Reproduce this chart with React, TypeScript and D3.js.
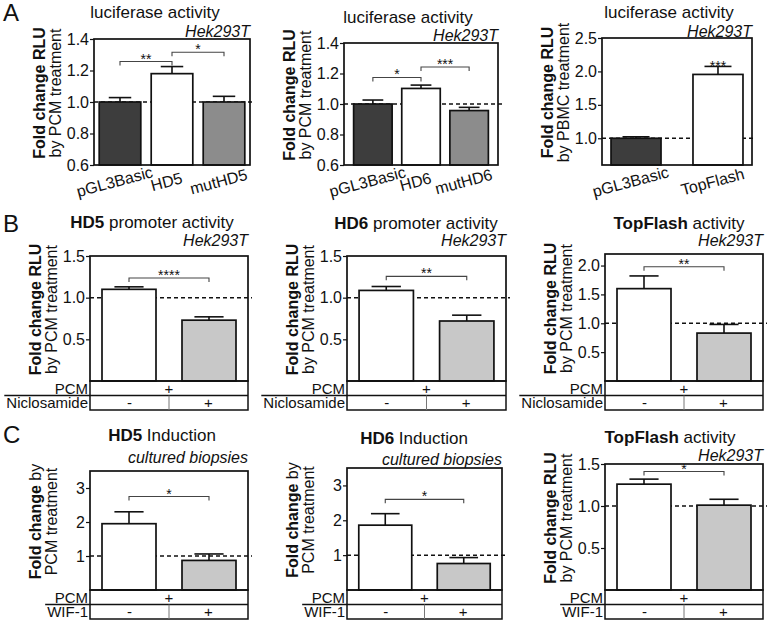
import React, { useEffect, useRef } from 'react';
import * as d3 from 'd3';

const FONT = '"Liberation Sans", Arial, Helvetica, sans-serif';

// ---- data: panel A (luciferase) ----
const catsA1 = ['pGL3Basic', 'HD5', 'mutHD5'];
const valsA1 = [1.0, 1.18, 1.0];
const errsA1 = [0.028, 0.045, 0.036];

const catsA2 = ['pGL3Basic', 'HD6', 'mutHD6'];
const valsA2 = [1.0, 1.102, 0.957];
const errsA2 = [0.026, 0.022, 0.021];

const catsA3 = ['pGL3Basic', 'TopFlash'];
const valsA3 = [1.0, 1.955];
const errsA3 = [0.022, 0.12];

// ---- data: panel B (niclosamide) ----
const valsB1 = [1.1, 0.73];
const errsB1 = [0.03, 0.04];
const valsB2 = [1.087, 0.72];
const errsB2 = [0.047, 0.07];
const valsB3 = [1.6, 0.83];
const errsB3 = [0.22, 0.15];

// ---- data: panel C (WIF-1) ----
const valsC1 = [1.95, 0.87];
const errsC1 = [0.35, 0.19];
const valsC2 = [1.86, 0.76];
const errsC2 = [0.33, 0.17];
const valsC3 = [1.26, 1.01];
const errsC3 = [0.06, 0.07];

// tick values
const ticksA12 = [0.6, 0.8, 1.0, 1.2, 1.4];
const ticksA3 = [1.0, 1.5, 2.0, 2.5];
const ticksB12 = [0.5, 1.0, 1.5];
const ticksB3 = [0.5, 1.0, 1.5, 2.0];
const ticksC12 = [1, 2, 3];
const ticksC3 = [0.5, 1.0, 1.5];

// table rows under B and C
const pcmRow = ['+'];
const treatRow = ['-', '+'];

// significance marks: a,b = bar indices, y = data value of bracket
const sigA1 = [{ a: 0, b: 1, y: 1.257, t: '**' }, { a: 1, b: 2, y: 1.316, t: '*' }];
const sigA2 = [{ a: 0, b: 1, y: 1.174, t: '*' }, { a: 1, b: 2, y: 1.243, t: '***' }];
const sigA3 = [{ a: 1, b: 1, y: 2.035, t: '***' }];
const sigB1 = [{ a: 0, b: 1, y: 1.236, t: '****' }];
const sigB2 = [{ a: 0, b: 1, y: 1.256, t: '**' }];
const sigB3 = [{ a: 0, b: 1, y: 1.98, t: '**' }];
const sigC1 = [{ a: 0, b: 1, y: 2.75, t: '*' }];
const sigC2 = [{ a: 0, b: 1, y: 2.6, t: '*' }];
const sigC3 = [{ a: 0, b: 1, y: 1.41, t: '*' }];

const DARK = '#3d3d3d';
const MID = '#8c8c8c';
const LIGHT = '#c8c8c8';

const f1 = d3.format('.1f');
const f0 = d3.format('d');

const labRLU = [['Fold change RLU', true]];
const labBy = [['Fold change ', true], ['by', false]];

const panels: any[] = [
  { vals: valsA1, errs: errsA1, cats: catsA1, sigs: sigA1, ticks: ticksA12, fmt: f1, domain: [0.6, 1.4],
    left: 94, right: 250, top: 39, bottom: 165, pi: 0.2, po: 0.1, colors: [DARK, '#fff', MID],
    tb: '', tr: 'luciferase activity', tx: 155, ty: 18, sub: 'Hek293T', sy: 37,
    lab1: labRLU, lab2: 'by PCM treatment' },
  { vals: valsA2, errs: errsA2, cats: catsA2, sigs: sigA2, ticks: ticksA12, fmt: f1, domain: [0.6, 1.4],
    left: 344, right: 498, top: 43, bottom: 165, pi: 0.2, po: 0.2, colors: [DARK, '#fff', MID],
    tb: '', tr: 'luciferase activity', tx: 408, ty: 23, sub: 'Hek293T', sy: 41,
    lab1: labRLU, lab2: 'by PCM treatment' },
  { vals: valsA3, errs: errsA3, cats: catsA3, sigs: sigA3, ticks: ticksA3, fmt: f1, domain: [0.6, 2.5],
    left: 602, right: 752, top: 38, bottom: 165, pi: 0.39, po: 0.11, colors: [DARK, '#fff'],
    tb: '', tr: 'luciferase activity', tx: 669, ty: 18, sub: 'Hek293T', sy: 37,
    lab1: labRLU, lab2: 'by PBMC treatment' },
  { vals: valsB1, errs: errsB1, sigs: sigB1, ticks: ticksB12, fmt: f1, domain: [0, 1.5],
    left: 90, right: 248, top: 256, bottom: 381, pi: 0.325, po: 0.15, colors: ['#fff', LIGHT],
    tb: 'HD5', tr: 'promoter activity', tx: 152, ty: 228, sub: 'Hek293T', sy: 246,
    lab1: labRLU, lab2: 'by PCM treatment', row2: 'Niclosamide' },
  { vals: valsB2, errs: errsB2, sigs: sigB2, ticks: ticksB12, fmt: f1, domain: [0, 1.5],
    left: 347, right: 506, top: 256, bottom: 381, pi: 0.325, po: 0.15, colors: ['#fff', LIGHT],
    tb: 'HD6', tr: 'promoter activity', tx: 416, ty: 229, sub: 'Hek293T', sy: 246,
    lab1: labRLU, lab2: 'by PCM treatment', row2: 'Niclosamide' },
  { vals: valsB3, errs: errsB3, sigs: sigB3, ticks: ticksB3, fmt: f1, domain: [0, 2.2],
    left: 605, right: 763, top: 254, bottom: 381, pi: 0.325, po: 0.15, colors: ['#fff', LIGHT],
    tb: 'TopFlash', tr: 'activity', tx: 679, ty: 229, sub: 'Hek293T', sy: 246,
    lab1: labRLU, lab2: 'by PCM treatment', row2: 'Niclosamide' },
  { vals: valsC1, errs: errsC1, sigs: sigC1, ticks: ticksC12, fmt: f0, domain: [0, 3.5],
    left: 90, right: 248, top: 471, bottom: 590, pi: 0.325, po: 0.15, colors: ['#fff', LIGHT],
    tb: 'HD5', tr: 'Induction', tx: 162, ty: 441, sub: 'cultured biopsies', sy: 463,
    lab1: labBy, lab2: 'PCM treatment', row2: 'WIF-1' },
  { vals: valsC2, errs: errsC2, sigs: sigC2, ticks: ticksC12, fmt: f0, domain: [0, 3.5],
    left: 347, right: 502, top: 468, bottom: 590, pi: 0.325, po: 0.15, colors: ['#fff', LIGHT],
    tb: 'HD6', tr: 'Induction', tx: 414, ty: 444, sub: 'cultured biopsies', sy: 465,
    lab1: labBy, lab2: 'PCM treatment', row2: 'WIF-1' },
  { vals: valsC3, errs: errsC3, sigs: sigC3, ticks: ticksC3, fmt: f1, domain: [0, 1.5],
    left: 605, right: 763, top: 464, bottom: 590, pi: 0.325, po: 0.15, colors: ['#fff', LIGHT],
    tb: 'TopFlash', tr: 'activity', tx: 670, ty: 443, sub: 'Hek293T', sy: 461,
    lab1: labRLU, lab2: 'by PCM treatment', row2: 'WIF-1' },
];

function drawPanel(svg: any, p: any) {
  const g = svg.append('g').attr('font-family', FONT).attr('fill', '#111');

  const x = d3.scaleBand<number>()
    .domain(d3.range(p.vals.length))
    .range([p.left, p.right])
    .paddingInner(p.pi)
    .paddingOuter(p.po);
  const y = d3.scaleLinear().domain(p.domain).range([p.bottom, p.top]);
  const bw = x.bandwidth();
  const cx = (i: number) => (x(i) as number) + bw / 2;

  // dashed line at 1 (behind bars)
  g.append('line')
    .attr('x1', p.left).attr('x2', p.right + 4)
    .attr('y1', y(1)).attr('y2', y(1))
    .attr('stroke', '#111').attr('stroke-width', 1.5).attr('stroke-dasharray', '4,3');

  g.selectAll('rect.bar').data(p.vals).enter().append('rect')
    .attr('class', 'bar')
    .attr('x', (d: number, i: number) => x(i))
    .attr('y', (d: number) => y(d))
    .attr('width', bw)
    .attr('height', (d: number) => p.bottom - y(d))
    .attr('fill', (d: number, i: number) => p.colors[i])
    .attr('stroke', '#111').attr('stroke-width', 1.7);

  // upper error bars
  p.vals.forEach((d: number, i: number) => {
    const yt = y(d + p.errs[i]);
    g.append('line').attr('x1', cx(i)).attr('x2', cx(i)).attr('y1', y(d)).attr('y2', yt)
      .attr('stroke', '#111').attr('stroke-width', 1.6);
    g.append('line').attr('x1', cx(i) - bw * 0.27).attr('x2', cx(i) + bw * 0.27).attr('y1', yt).attr('y2', yt)
      .attr('stroke', '#111').attr('stroke-width', 1.6);
  });

  // frame
  g.append('rect')
    .attr('x', p.left).attr('y', p.top)
    .attr('width', p.right - p.left).attr('height', p.bottom - p.top)
    .attr('fill', 'none').attr('stroke', '#111').attr('stroke-width', 1.7);

  const axis = d3.axisLeft(y).tickValues(p.ticks).tickSize(4).tickPadding(1).tickFormat(p.fmt);
  const ag = g.append('g').attr('transform', `translate(${p.left},0)`).call(axis);
  ag.select('.domain').remove();
  ag.attr('font-size', 16).attr('font-family', FONT);
  ag.selectAll('text').attr('fill', '#111');
  ag.selectAll('line').attr('stroke', '#111').attr('stroke-width', 1.2);

  // significance
  p.sigs.forEach((s: any) => {
    const yy = y(s.y);
    if (s.a !== s.b) {
      g.append('path')
        .attr('d', `M${cx(s.a)},${yy + 4}V${yy}H${cx(s.b)}V${yy + 4}`)
        .attr('fill', 'none').attr('stroke', '#444').attr('stroke-width', 1.1);
    }
    g.append('text')
      .attr('x', (cx(s.a) + cx(s.b)) / 2).attr('y', yy + 2)
      .attr('text-anchor', 'middle').attr('font-size', 14)
      .text(s.t);
  });

  // title + subtitle
  const t = g.append('text').attr('x', p.tx).attr('y', p.ty).attr('text-anchor', 'middle').attr('font-size', 17);
  if (p.tb) t.append('tspan').attr('font-weight', 'bold').text(p.tb + ' ');
  t.append('tspan').text(p.tr);
  g.append('text').attr('x', p.right).attr('y', p.sy).attr('text-anchor', 'end')
    .attr('font-size', 16).attr('font-style', 'italic').text(p.sub);

  // y labels
  const ly = (p.top + p.bottom) / 2 - 9;
  const l1 = g.append('text')
    .attr('transform', `translate(${p.left - 49},${ly}) rotate(-90)`)
    .attr('text-anchor', 'middle').attr('font-size', 16);
  p.lab1.forEach((part: any) => {
    l1.append('tspan').attr('font-weight', part[1] ? 'bold' : 'normal').text(part[0]);
  });
  g.append('text')
    .attr('transform', `translate(${p.left - 33},${ly}) rotate(-90)`)
    .attr('text-anchor', 'middle').attr('font-size', 16)
    .text(p.lab2);

  // rotated category labels (panel A)
  if (p.cats) {
    p.cats.forEach((c: string, i: number) => {
      g.append('text')
        .attr('transform', `translate(${cx(i) - 4},${p.bottom + 22}) rotate(-15)`)
        .attr('text-anchor', 'middle').attr('font-size', 16)
        .text(c);
    });
  }

  // treatment table (panels B and C)
  if (p.row2) {
    const r1 = p.bottom, r2 = p.bottom + 14.5, r3 = p.bottom + 29;
    const mid = (p.left + p.right) / 2;
    g.append('rect')
      .attr('x', p.left).attr('y', r1)
      .attr('width', p.right - p.left).attr('height', r3 - r1)
      .attr('fill', 'none').attr('stroke', '#111').attr('stroke-width', 1.5);
    const lab = g.append('text').attr('x', p.left - 2).attr('y', r3 - 2.5)
      .attr('text-anchor', 'end').attr('font-size', 15).text(p.row2);
    const w = (lab.node() as SVGTextElement).getComputedTextLength();
    g.append('line')
      .attr('x1', p.left - 4 - w).attr('x2', p.right)
      .attr('y1', r2).attr('y2', r2)
      .attr('stroke', '#111').attr('stroke-width', 1.5);
    g.append('text').attr('x', p.left - 2).attr('y', r2 - 2)
      .attr('text-anchor', 'end').attr('font-size', 15).text('PCM');
    g.append('line')
      .attr('x1', mid).attr('x2', mid).attr('y1', r2).attr('y2', r3)
      .attr('stroke', '#777').attr('stroke-width', 1);
    pcmRow.forEach((s) => {
      g.append('text').attr('x', mid).attr('y', r2 - 2)
        .attr('text-anchor', 'middle').attr('font-size', 15).text(s);
    });
    treatRow.forEach((s, i) => {
      const xc = i === 0 ? (p.left + mid) / 2 : (mid + p.right) / 2;
      g.append('text').attr('x', xc).attr('y', r3 - 2.5)
        .attr('text-anchor', 'middle').attr('font-size', 15).text(s);
    });
  }
}

export default function App() {
  const ref = useRef<SVGSVGElement>(null);

  useEffect(() => {
    const svg = d3.select(ref.current);
    svg.selectAll('*').remove();
    svg.append('rect').attr('width', 767).attr('height', 623).attr('fill', '#fff');
    panels.forEach((p) => drawPanel(svg, p));

    const letters = [['A', 21], ['B', 232], ['C', 443]];
    letters.forEach((l) => {
      svg.append('text').attr('x', 3).attr('y', l[1]).attr('font-family', FONT)
        .attr('font-size', 24).attr('fill', '#111').text(l[0] as string);
    });
  }, []);

  return (
    <svg ref={ref} width={767} height={623}
      style={{ position: 'absolute', left: 0, top: 0, display: 'block' }} />
  );
}
